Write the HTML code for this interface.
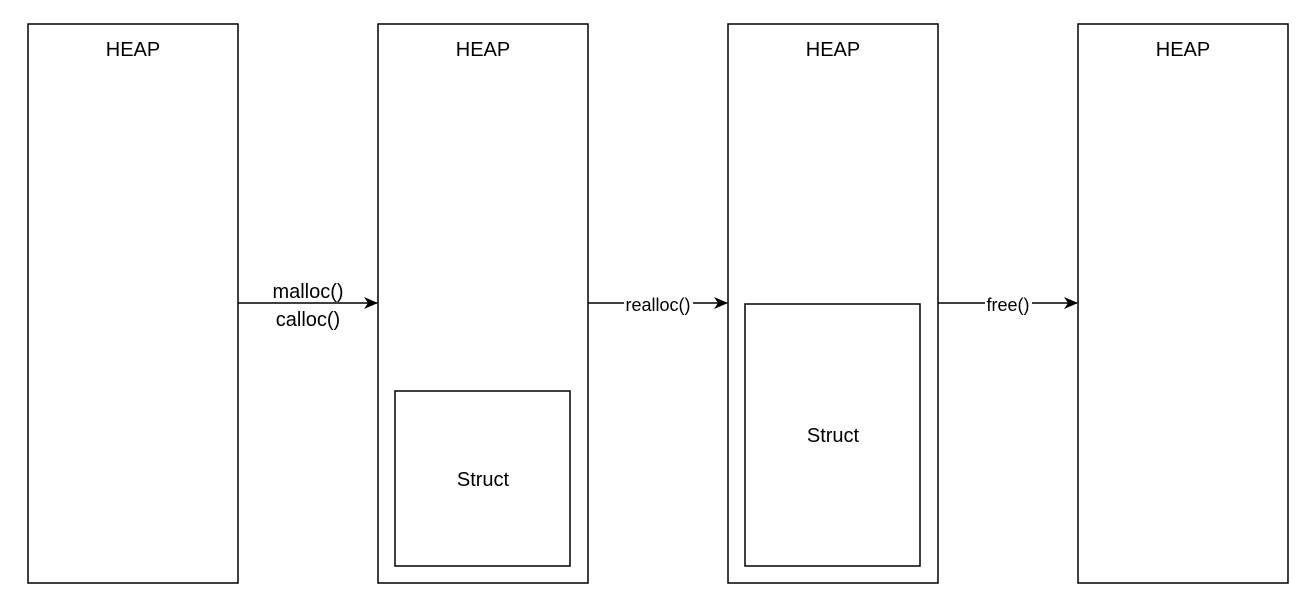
<!DOCTYPE html>
<html><head><meta charset="utf-8"><style>
html,body{margin:0;padding:0;background:#fff;}
svg{display:block;font-family:"Liberation Sans",Arial,sans-serif;}
</style></head><body>
<svg width="1311" height="607" viewBox="0 0 1311 607">
<defs><marker id="ah" markerWidth="14" markerHeight="12" refX="13" refY="6" orient="auto" markerUnits="userSpaceOnUse"><path d="M0,0 L14,6 L0,12 L4,6 Z" fill="#000"/></marker></defs>
<g fill="none" stroke="#000" stroke-width="1.5">
<rect x="28" y="24" width="210" height="559"/>
<rect x="378" y="24" width="210" height="559"/>
<rect x="728" y="24" width="210" height="559"/>
<rect x="1078" y="24" width="210" height="559"/>
<rect x="395" y="391" width="175" height="175"/>
<rect x="745" y="304" width="175" height="262"/>
<line x1="238" y1="303" x2="377" y2="303" marker-end="url(#ah)"/>
<line x1="588" y1="303" x2="727" y2="303" marker-end="url(#ah)"/>
<line x1="938" y1="303" x2="1077" y2="303" marker-end="url(#ah)"/>
</g>
<g font-size="20" text-anchor="middle" fill="#000">
<text x="133" y="56">HEAP</text>
<text x="483" y="56">HEAP</text>
<text x="833" y="56">HEAP</text>
<text x="1183" y="56">HEAP</text>
<text x="483" y="486">Struct</text>
<text x="833" y="442">Struct</text>
<text x="308" y="298">malloc()</text>
<text x="308" y="326">calloc()</text>
</g>
<rect x="624" y="294" width="69" height="20" fill="#fff"/>
<rect x="985" y="294" width="47" height="20" fill="#fff"/>
<g font-size="18" text-anchor="middle" fill="#000">
<text x="658" y="311">realloc()</text>
<text x="1008" y="311">free()</text>
</g>
</svg>
</body></html>
